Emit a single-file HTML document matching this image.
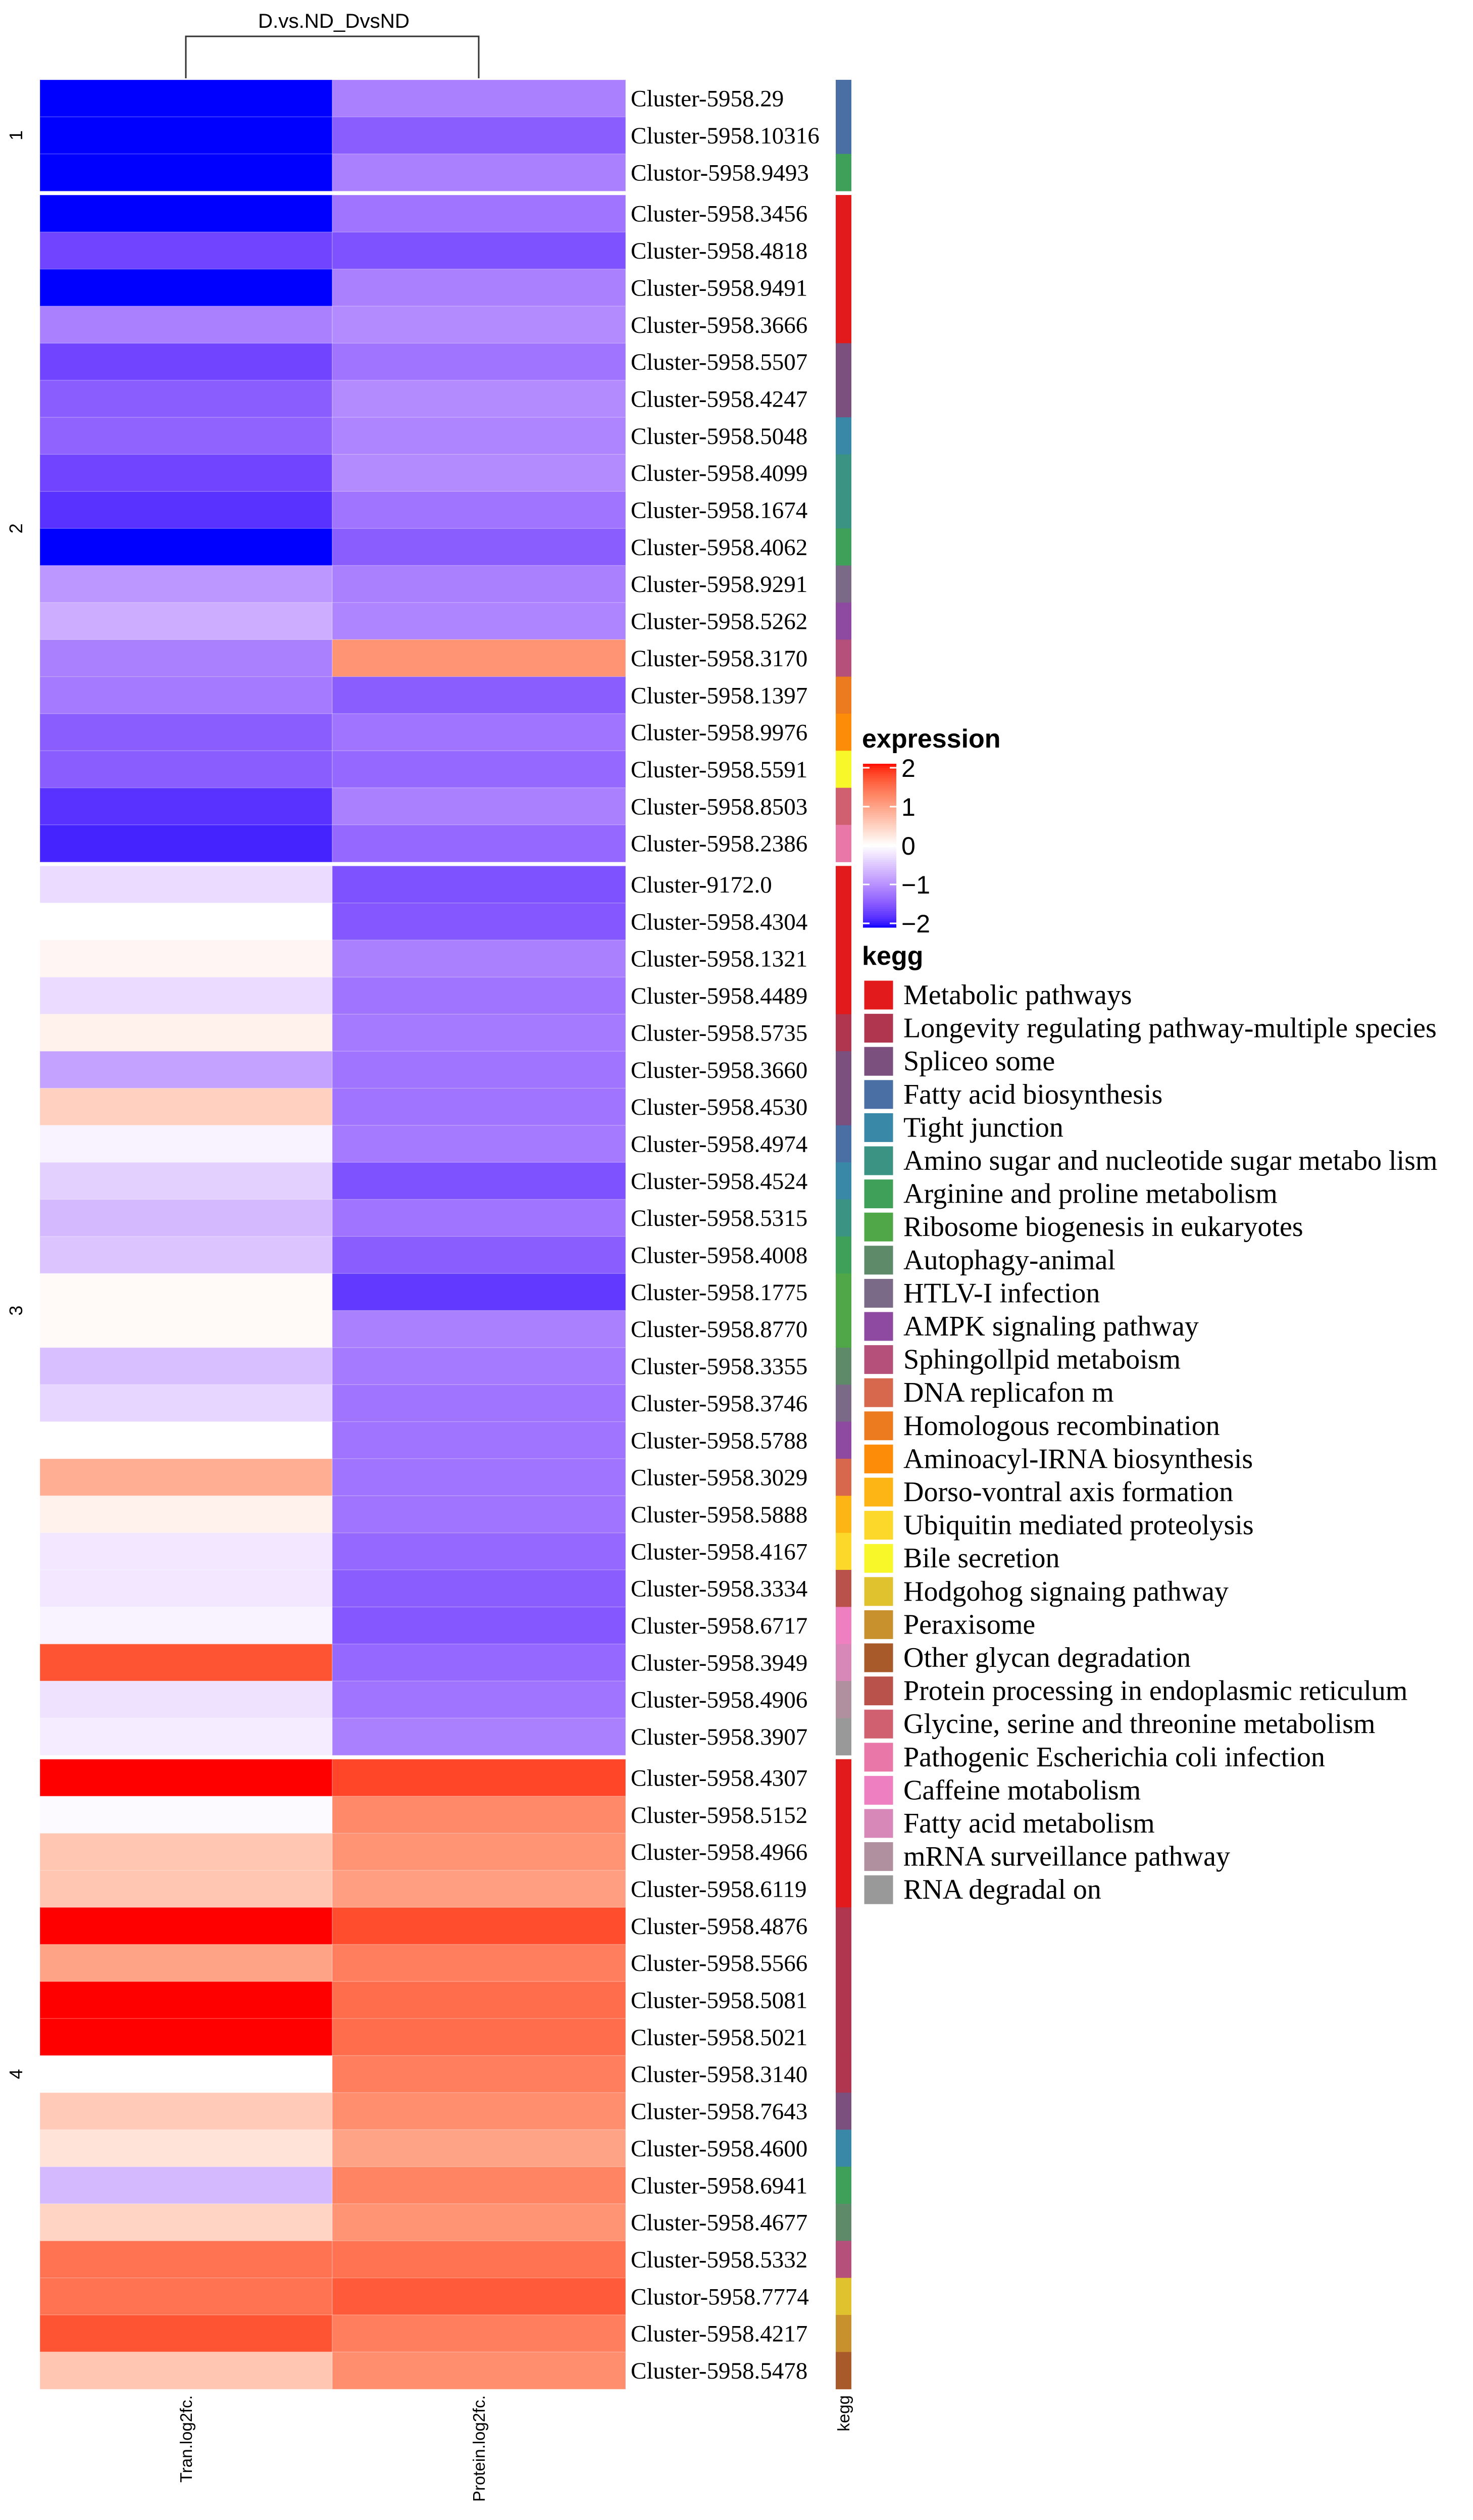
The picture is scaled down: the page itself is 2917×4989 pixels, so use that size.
<!DOCTYPE html>
<html><head><meta charset="utf-8"><title>Heatmap</title>
<style>
html,body{margin:0;padding:0;background:#fff;}
svg{display:block;}
</style></head>
<body>
<svg id="chart" width="2917" height="4989" viewBox="0 0 2917 4989" xmlns="http://www.w3.org/2000/svg">
<rect x="0" y="0" width="2917" height="4989" fill="#fff"/>
<g id="dendro">
<path d="M368 155 V72 H948 V155" fill="none" stroke="#333" stroke-width="3"/>
<text x="661" y="55" font-family="Liberation Sans, sans-serif" font-size="40" text-anchor="middle" textLength="300" lengthAdjust="spacingAndGlyphs">D.vs.ND_DvsND</text>
</g>
<g id="cells"></g>
<g id="rowlabels"></g>
<g id="keggbar"></g>
<g id="legend"></g>
</svg>
<script>
const blocks=[3,18,24,17];
const rowLabels=["Cluster-5958.29","Cluster-5958.10316","Clustor-5958.9493",
"Cluster-5958.3456","Cluster-5958.4818","Cluster-5958.9491","Cluster-5958.3666","Cluster-5958.5507","Cluster-5958.4247","Cluster-5958.5048","Cluster-5958.4099","Cluster-5958.1674","Cluster-5958.4062","Cluster-5958.9291","Cluster-5958.5262","Cluster-5958.3170","Cluster-5958.1397","Cluster-5958.9976","Cluster-5958.5591","Cluster-5958.8503","Cluster-5958.2386",
"Cluster-9172.0","Cluster-5958.4304","Cluster-5958.1321","Cluster-5958.4489","Cluster-5958.5735","Cluster-5958.3660","Cluster-5958.4530","Cluster-5958.4974","Cluster-5958.4524","Cluster-5958.5315","Cluster-5958.4008","Cluster-5958.1775","Cluster-5958.8770","Cluster-5958.3355","Cluster-5958.3746","Cluster-5958.5788","Cluster-5958.3029","Cluster-5958.5888","Cluster-5958.4167","Cluster-5958.3334","Cluster-5958.6717","Cluster-5958.3949","Cluster-5958.4906","Cluster-5958.3907",
"Cluster-5958.4307","Cluster-5958.5152","Cluster-5958.4966","Cluster-5958.6119","Cluster-5958.4876","Cluster-5958.5566","Cluster-5958.5081","Cluster-5958.5021","Cluster-5958.3140","Cluster-5958.7643","Cluster-5958.4600","Cluster-5958.6941","Cluster-5958.4677","Cluster-5958.5332","Clustor-5958.7774","Cluster-5958.4217","Cluster-5958.5478"];
const colLabels=["Tran.log2fc.","Protein.log2fc."];
const tranValues=[-2,-2,-2,
-2,-1.6,-2,-1.1,-1.6,-1.4,-1.35,-1.6,-1.75,-2,-0.9,-0.7,-1.1,-1.15,-1.4,-1.4,-1.75,-1.85,
-0.3,0,0.1,-0.3,0.15,-0.8,0.5,-0.1,-0.4,-0.6,-0.5,0.05,0.05,-0.55,-0.35,0,0.85,0.15,-0.2,-0.2,-0.1,1.65,-0.25,-0.15,
2,-0.05,0.6,0.6,2,0.95,2,2,0,0.55,0.3,-0.6,0.45,1.4,1.4,1.65,0.6];
const proteinValues=[-1.1,-1.4,-1.1,
-1.2,-1.5,-1.1,-1.0,-1.2,-1.0,-1.05,-1.0,-1.2,-1.4,-1.1,-1.05,1.1,-1.4,-1.2,-1.3,-1.1,-1.3,
-1.5,-1.45,-1.1,-1.2,-1.15,-1.2,-1.2,-1.15,-1.5,-1.2,-1.4,-1.7,-1.1,-1.15,-1.2,-1.2,-1.2,-1.2,-1.3,-1.4,-1.45,-1.3,-1.2,-1.1,
1.75,1.2,1.1,1.0,1.7,1.3,1.45,1.45,1.3,1.15,0.95,1.25,1.1,1.4,1.6,1.3,1.15];
const keggIndex=[3,3,6,
0,0,0,0,2,2,4,5,5,6,9,10,11,13,14,17,22,23,
0,0,0,0,1,2,2,3,4,5,6,7,7,8,9,10,12,15,16,21,24,25,26,27,
0,0,0,0,1,1,1,1,1,2,4,6,8,11,18,19,20];
const keggNames=["Metabolic pathways","Longevity regulating pathway-multiple species","Spliceo some","Fatty acid biosynthesis","Tight junction","Amino sugar and nucleotide sugar metabo lism","Arginine and proline metabolism","Ribosome biogenesis in eukaryotes","Autophagy-animal","HTLV-I infection","AMPK signaling pathway","Sphingollpid metaboism","DNA replicafon m","Homologous recombination","Aminoacyl-IRNA biosynthesis","Dorso-vontral axis formation","Ubiquitin mediated proteolysis","Bile secretion","Hodgohog signaing pathway","Peraxisome","Other glycan degradation","Protein processing in endoplasmic reticulum","Glycine, serine and threonine metabolism","Pathogenic Escherichia coli infection","Caffeine motabolism","Fatty acid metabolism","mRNA surveillance pathway","RNA degradal on"];
const keggColors=["#E31A1C","#B0354E","#7B4F7E","#4A6FA5","#3A88A8","#3B9384","#3FA05A","#50A748","#5E8A6A","#7A6A88","#8E4AA0","#B4507A","#D7684E","#EC7A1E","#FD8C08","#FDB515","#FCD82A","#F7F72A","#E0C22E","#C9912E","#A85A2A","#B8524A","#D06070","#E978A8","#EE7FC0","#D888B8","#B0909E","#999999"];
const scaleTicks=[2,1,0,-1,-2];
const blockLabels=["1","2","3","4"];

const NS="http://www.w3.org/2000/svg";
function mk(tag,attrs,parent){const e=document.createElementNS(NS,tag);for(const k in attrs)e.setAttribute(k,attrs[k]);if(parent)parent.appendChild(e);return e;}
function toLin(c){c/=255;return c<=0.04045?c/12.92:Math.pow((c+0.055)/1.055,2.4);}
function fromLin(c){c=c<=0.0031308?12.92*c:1.055*Math.pow(c,1/2.4)-0.055;return Math.max(0,Math.min(255,Math.round(c*255)));}
function rgb2lab(r,g,b){r=toLin(r);g=toLin(g);b=toLin(b);let X=(r*0.4124+g*0.3576+b*0.1805)/0.95047,Y=r*0.2126+g*0.7152+b*0.0722,Z=(r*0.0193+g*0.1192+b*0.9505)/1.08883;const f=t=>t>0.008856?Math.cbrt(t):7.787*t+16/116;X=f(X);Y=f(Y);Z=f(Z);return[116*Y-16,500*(X-Y),200*(Y-Z)];}
function lab2rgb(L,a,b){let Y=(L+16)/116,X=a/500+Y,Z=Y-b/200;const fi=t=>t*t*t>0.008856?t*t*t:(t-16/116)/7.787;X=fi(X)*0.95047;Y=fi(Y);Z=fi(Z)*1.08883;const r=X*3.2406+Y*-1.5372+Z*-0.4986,g=X*-0.9689+Y*1.8758+Z*0.0415,bb=X*0.0557+Y*-0.2040+Z*1.0570;return`rgb(${fromLin(r)},${fromLin(g)},${fromLin(bb)})`;}
const LB=rgb2lab(0,0,255),LW=rgb2lab(255,255,255),LR=rgb2lab(255,0,0);
function color(v){v=Math.max(-2,Math.min(2,v));const t=Math.abs(v)/2;const e=v<0?LB:LR;return lab2rgb(LW[0]+(e[0]-LW[0])*t,LW[1]+(e[1]-LW[1])*t,LW[2]+(e[2]-LW[2])*t);}

const top0=158,rowH=73.35,gap=8,colX=[79,658],colW=[579,581];
function rowY(i){let b=0,c=0;for(let k=0;k<blocks.length;k++){if(i<c+blocks[k]){b=k;break;}c+=blocks[k];}return top0+i*rowH+b*gap;}
function blockStart(k){let c=0;for(let j=0;j<k;j++)c+=blocks[j];return c;}

const cells=document.getElementById('cells'),rl=document.getElementById('rowlabels'),kb=document.getElementById('keggbar'),lg=document.getElementById('legend');
const series=[tranValues,proteinValues];
for(let i=0;i<rowLabels.length;i++){
  const y=rowY(i);
  for(let c=0;c<2;c++){
    const r=mk('rect',{x:colX[c],y:y,width:colW[c],height:rowH+0.5,fill:color(series[c][i]),stroke:'rgba(255,255,255,0.25)','stroke-width':1.5},cells);
    
    
  }
  const t=mk('text',{x:1249,y:y+rowH/2+16,'font-family':'Liberation Serif, serif','font-size':47},rl);
  t.textContent=rowLabels[i];
  
  
  const k=mk('rect',{x:1655,y:y,width:31,height:rowH+0.5,fill:keggColors[keggIndex[i]]},kb);
  
  
}
for(let k=0;k<blocks.length;k++){
  const s=blockStart(k),y0=rowY(s),y1=rowY(s+blocks[k]-1)+rowH,cy=(y0+y1)/2;
  const t=mk('text',{x:44,y:cy,'font-family':'Liberation Sans, sans-serif','font-size':36,'text-anchor':'middle',transform:`rotate(-90 44 ${cy})`},rl);
  t.textContent=blockLabels[k];
  
  
}
const colCx=[368,948];
for(let c=0;c<2;c++){
  const t=mk('text',{x:colCx[c]+12,y:4742,'font-family':'Liberation Sans, sans-serif','font-size':33,'text-anchor':'end',transform:`rotate(-90 ${colCx[c]+12} 4742)`},rl);
  t.textContent=colLabels[c];
  
  
}
const kt=mk('text',{x:1682,y:4742,'font-family':'Liberation Sans, sans-serif','font-size':33,'text-anchor':'end',transform:'rotate(-90 1682 4742)'},rl);
kt.textContent='kegg';



const cbX=1709,cbW=66,cbTop=1512,cbBot=1836;
const et=mk('text',{x:1707,y:1480,'font-family':'Liberation Sans, sans-serif','font-size':52,'font-weight':'bold'},lg);
et.textContent='expression';


const cbY=v=>cbTop+8+(2-v)/4*(cbBot-cbTop-16);
for(let s=0;s<80;s++){
  const v0=2-4*s/80;
  const r=mk('rect',{x:cbX,y:cbTop+s*(cbBot-cbTop)/80,width:cbW,height:(cbBot-cbTop)/80+0.6,fill:color(v0-0.025)},lg);
  
  
}
for(const v of scaleTicks){
  const y=cbY(v);
  mk('line',{x1:cbX,x2:cbX+13,y1:y,y2:y,stroke:'#fff','stroke-width':3},lg);
  mk('line',{x1:cbX+cbW-13,x2:cbX+cbW,y1:y,y2:y,stroke:'#fff','stroke-width':3},lg);
  const t=mk('text',{x:cbX+cbW+10,y:y+18,'font-family':'Liberation Sans, sans-serif','font-size':50},lg);
  t.textContent=v<0?'\u2212'+Math.abs(v):String(v);
  
  
}
const kg=mk('text',{x:1707,y:1910,'font-family':'Liberation Sans, sans-serif','font-size':52,'font-weight':'bold'},lg);
kg.textContent='kegg';


for(let i=0;i<keggNames.length;i++){
  const cy=1970+i*65.6;
  const g=mk('g',{},lg);
  
  
  mk('rect',{x:1710,y:cy-30,width:60,height:60,fill:keggColors[i],stroke:'#fff','stroke-width':3},g);
  const t=mk('text',{x:1789,y:cy+18,'font-family':'Liberation Serif, serif','font-size':56},g);
  t.textContent=keggNames[i];
}
</script>
</body></html>
